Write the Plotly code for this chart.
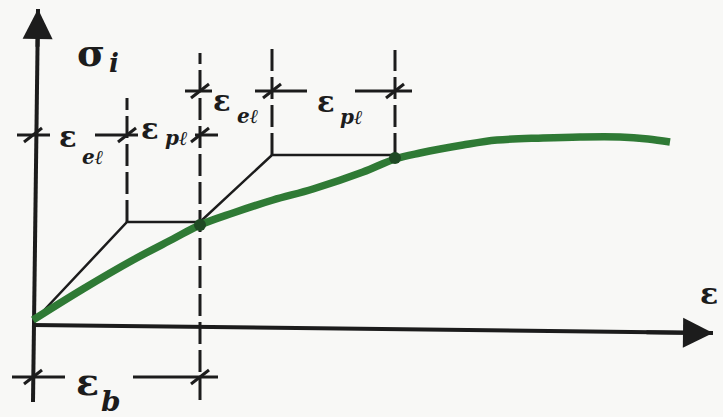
import plotly.graph_objects as go

# strain / stress (arbitrary units, origin at 0,0)
curve_eps = [0, 50, 100, 140, 167, 200, 240, 280, 330, 362, 387, 430, 464, 510, 547, 587, 615, 637]
curve_sig = [5, 36, 65, 86, 100, 112, 125, 136, 153, 166, 172, 180, 185, 187, 188, 188, 186, 183]

# secant (elastic + plastic) steps
step_eps = [0, 94, 167, 239, 362]
step_sig = [3, 103, 103, 170, 170]
knots_eps = [167, 362]
knots_sig = [100, 167]

# dashed verticals: x, y bottom, y top
vert_x = [94, 167, 239, 362]
vert_y0 = [103, -75, 170, 170]
vert_y1 = [227, 272, 277, 275]

# axes (start -> arrow tip)
xaxis_eps = [0, 680]
xaxis_sig = [0, -8]
yaxis_eps = [0, 5]
yaxis_sig = [-77, 316]

# dimension rows: y level, tick positions, segment extents
rowA_y = 190
rowA_ticks = [0, 94, 167]
rowA_segs = [(-16, 17), (62, 105), (162, 185)]
rowB_y = 234
rowB_ticks = [167, 239, 362]
rowB_segs = [(152, 179), (222, 274), (322, 379)]
rowC_y = -52
rowC_ticks = [0, 167]
rowC_segs = [(-21, 32), (100, 185)]

INK = "#1c1c1c"
GREEN = "#2f7a35"
FONT = "DejaVu Serif"

fig = go.Figure()

# dashed verticals
for x, a, b in zip(vert_x, vert_y0, vert_y1):
    fig.add_trace(go.Scatter(x=[x, x], y=[a, b], mode="lines",
                             line=dict(color=INK, width=3, dash="22px,6px")))

# axes: shaft as a line, arrowhead as an annotation on the last stretch
for xs, ys in [(xaxis_eps, xaxis_sig), (yaxis_eps, yaxis_sig)]:
    fig.add_trace(go.Scatter(x=xs, y=ys, mode="lines", line=dict(color=INK, width=4)))
    fig.add_annotation(x=xs[-1], y=ys[-1], ax=xs[0] + 0.9 * (xs[-1] - xs[0]),
                       ay=ys[0] + 0.9 * (ys[-1] - ys[0]), xref="x", yref="y", axref="x", ayref="y",
                       showarrow=True, arrowhead=2, arrowsize=1.5, arrowwidth=4, arrowcolor=INK, text="")

# dimension segments + slash ticks
for yy, ticks, segs in [(rowA_y, rowA_ticks, rowA_segs), (rowB_y, rowB_ticks, rowB_segs),
                        (rowC_y, rowC_ticks, rowC_segs)]:
    xs, ys = [], []
    for a, b in segs:
        xs += [a, b, None]
        ys += [yy, yy, None]
    for t in ticks:
        xs += [t - 9, t + 9, None]
        ys += [yy - 7, yy + 7, None]
    fig.add_trace(go.Scatter(x=xs, y=ys, mode="lines", line=dict(color=INK, width=3)))

# secant step lines
fig.add_trace(go.Scatter(x=step_eps, y=step_sig, mode="lines", line=dict(color=INK, width=2.5)))

# green stress-strain curve
fig.add_trace(go.Scatter(x=curve_eps, y=curve_sig, mode="lines",
                         line=dict(color=GREEN, width=7.5, shape="spline", smoothing=1)))
fig.add_trace(go.Scatter(x=knots_eps, y=knots_sig, mode="markers",
                         marker=dict(color="#1f4a24", size=12)))


def label(px, py, txt, size, italic=False):
    # position given in picture pixels, converted to data units
    fig.add_annotation(x=px - 33, y=325 - py, xref="x", yref="y",
                       text="<b><i>%s</i></b>" % txt if italic else "<b>%s</b>" % txt,
                       showarrow=False, font=dict(family=FONT, size=size, color=INK))


label(91, 52, "σ", 38)
label(114, 63, "i", 26, True)
label(709, 293, "ε", 30)
label(87, 381, "ε", 38)
label(111, 401, "b", 28, True)
label(68, 137, "ε", 29)
label(92, 157, "eℓ", 20, True)
label(150, 129, "ε", 29)
label(176, 138, "pℓ", 20, True)
label(222, 101, "ε", 29)
label(247, 116, "eℓ", 20, True)
label(326, 102, "ε", 29)
label(351, 117, "pℓ", 20, True)

fig.update_xaxes(range=[-33, 690], visible=False)
fig.update_yaxes(range=[-92, 325], visible=False)
fig.update_layout(width=723, height=417, margin=dict(l=0, r=0, t=0, b=0),
                  showlegend=False, plot_bgcolor="#f8f8f6", paper_bgcolor="#f8f8f6")

fig.write_html("out.html", config={"displayModeBar": False},
               post_script="document.body.style.margin='0px';")
